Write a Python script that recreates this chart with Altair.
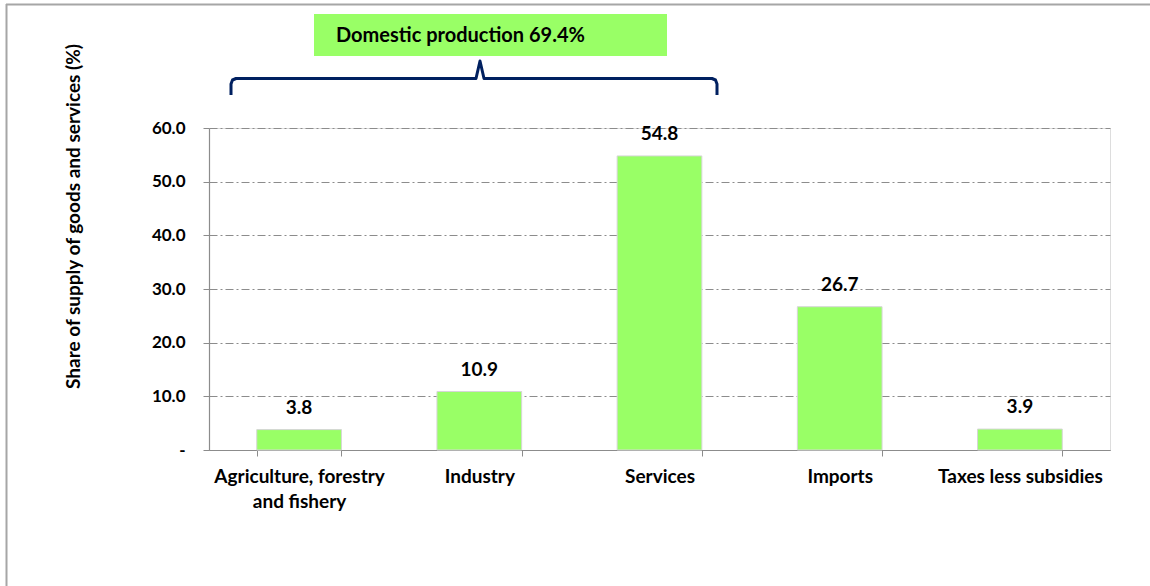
import altair as alt
import pandas as pd

# Supply of goods and services by source (share, %)
categories = ["Agriculture, forestry and fishery", "Industry", "Services", "Imports", "Taxes less subsidies"]
shares = [3.8, 10.9, 54.8, 26.7, 3.9]
y_ticks = [0, 10, 20, 30, 40, 50, 60]

bracket_label = "Domestic production 69.4%"

FONT = "Lato"
BAR_GREEN = "#99FF66"
NAVY = "#002060"
GRID_GREY = "#8c8c8c"

W, H = 901, 322

df = pd.DataFrame({"category": categories, "share": shares})

x_enc = alt.X(
    "category:N",
    sort=categories,
    scale=alt.Scale(paddingInner=0.53, paddingOuter=0.265),
    axis=alt.Axis(
        title=None,
        labelAngle=0,
        labelFont=FONT,
        labelFontWeight="bold",
        labelFontSize=19,
        labelColor="black",
        labelPadding=11,
        labelLineHeight=25,
        labelExpr="datum.value == 'Agriculture, forestry and fishery' ? ['Agriculture, forestry', 'and fishery'] : datum.label",
        domainColor=GRID_GREY,
        domainWidth=1.2,
        tickColor=GRID_GREY,
        tickBand="extent",
        tickSize=6,
        grid=False,
    ),
)

y_enc = alt.Y(
    "share:Q",
    scale=alt.Scale(domain=[0, 60], nice=False),
    axis=alt.Axis(
        title="Share of supply of goods and services (%)",
        titleFont=FONT,
        titleFontWeight="bold",
        titleFontSize=19,
        titleColor="black",
        titleX=-126,
        titleY=88,
        titleAngle=-90,
        values=y_ticks,
        labelExpr="datum.value == 0 ? '-' : format(datum.value, '.1f')",
        labelFont=FONT,
        labelFontWeight="bold",
        labelFontSize=17,
        labelColor="black",
        labelPadding=18,
        domainColor=GRID_GREY,
        domainWidth=1.2,
        tickColor=GRID_GREY,
        tickSize=6,
        grid=True,
        gridColor=GRID_GREY,
        gridDash=[8, 3, 2, 3],
        gridWidth=1,
    ),
)

base = alt.Chart(df)

bars = base.mark_bar(color=BAR_GREEN, stroke="#d6d6d6", strokeWidth=1).encode(x=x_enc, y=y_enc)

values = base.mark_text(
    font=FONT, fontWeight="bold", fontSize=19, color="black", baseline="middle", dy=-22
).encode(
    x=alt.X("category:N", sort=categories),
    y=alt.Y("share:Q"),
    text=alt.Text("share:Q", format=".1f"),
)

# Outer frame lines (top and left) of the chart box
frame_top = alt.Chart(pd.DataFrame({"k": [0]})).mark_rule(color="#a6a6a6", strokeWidth=2).encode(
    x=alt.value(-203), x2=alt.value(1150 - 209), y=alt.value(-123.5)
)
frame_left = alt.Chart(pd.DataFrame({"k": [0]})).mark_rule(color="#a6a6a6", strokeWidth=2).encode(
    x=alt.value(-202.5), y=alt.value(-124), y2=alt.value(586 - 128)
)

# Curly bracket over the domestic-production categories
bracket_pts = pd.DataFrame({
    "order": list(range(11)),
    "px": [22, 22, 23.5, 27, 267, 271, 275, 503, 506.5, 508, 508],
    "py": [-33, -44, -48, -49.5, -49.5, -67, -49.5, -49.5, -48, -44, -33],
})
bracket = alt.Chart(bracket_pts).mark_line(
    color=NAVY, strokeWidth=3, strokeJoin="round", strokeCap="butt"
).encode(
    x=alt.X("px:Q", scale=None),
    y=alt.Y("py:Q", scale=None),
    order="order:Q",
)

label_box = alt.Chart(pd.DataFrame({"k": [0]})).mark_rect(color=BAR_GREEN).encode(
    x=alt.value(105), x2=alt.value(458), y=alt.value(-114), y2=alt.value(-72)
)
label_text = alt.Chart(pd.DataFrame({"t": [bracket_label]})).mark_text(
    font=FONT, fontWeight="bold", fontSize=20, color="black", align="left", baseline="middle"
).encode(x=alt.value(127), y=alt.value(-92), text="t:N")

chart = alt.layer(
    frame_top, frame_left, bars, values, bracket, label_box, label_text
).properties(
    width=W,
    height=H,
    padding={"left": 209, "top": 128, "right": 40, "bottom": 136},
    autosize=alt.AutoSizeParams(type="none"),
).configure_view(stroke=None).configure(background="white")

chart.save("out.html", embed_options={"renderer": "svg", "actions": False})
